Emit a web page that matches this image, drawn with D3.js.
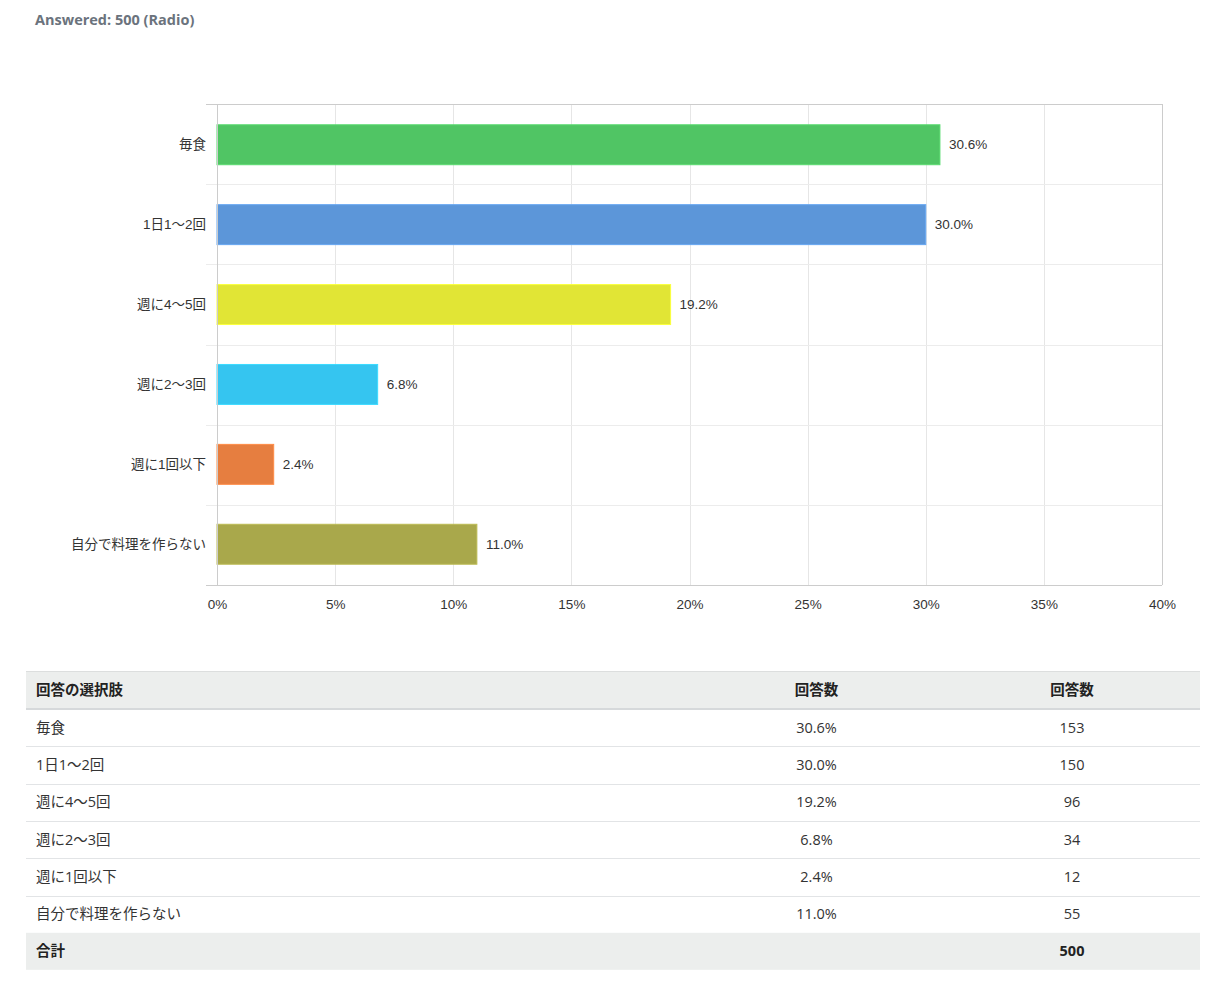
<!DOCTYPE html>
<html>
<head>
<meta charset="utf-8">
<script src="https://cdn.jsdelivr.net/npm/d3@7"></script>
<style>
  html, body { margin: 0; padding: 0; background: #fff; }
  svg { display: block; }
</style>
</head>
<body>
<svg id="chart" width="1225" height="982"></svg>
<script>
const categories = ["毎食", "1日1〜2回", "週に4〜5回", "週に2〜3回", "週に1回以下", "自分で料理を作らない"];
const percents = [30.6, 30.0, 19.2, 6.8, 2.4, 11.0];
const counts = [153, 150, 96, 34, 12, 55];
const colors = ["#50c564", "#5c96d9", "#e1e535", "#35c5f0", "#e67e40", "#a9a84b"];
const xTicks = [0, 5, 10, 15, 20, 25, 30, 35, 40];
const total = 500;
const titleText = "Answered: 500 (Radio)";
const tableHeaders = ["回答の選択肢", "回答数", "回答数"];
const totalLabel = "合計";

(function () {
const svg = d3.select("#chart");
const latin = "'Liberation Sans', Arial, 'Noto Sans CJK JP', sans-serif";
const tfont = "'Open Sans', 'Noto Sans CJK JP', sans-serif";
const cfs = 13.5;

svg.append("text").attr("x", 35).attr("y", 25)
  .attr("font-family", tfont).attr("font-size", 14.5).attr("font-weight", "bold")
  .attr("fill", "#6b737d").text(titleText);

const pLeft = 217, pRight = 1162, pTop = 104, pBottom = 585;
const x = d3.scaleLinear().domain([0, 40]).range([pLeft, pRight]);
const y = d3.scaleBand().domain(categories).range([pTop, pBottom]).paddingInner(0.5).paddingOuter(0.26);
const yb = d3.scaleBand().domain(categories).range([pTop, pBottom]);

const g = svg.append("g");

g.selectAll("line.vg").data(xTicks.slice(1, -1)).join("line")
  .attr("x1", d => Math.round(x(d)) + 0.5).attr("x2", d => Math.round(x(d)) + 0.5).attr("y1", pTop).attr("y2", pBottom)
  .attr("stroke", "#e6e6e6").attr("stroke-width", 1);

g.selectAll("line.hg").data(categories.slice(1)).join("line")
  .attr("x1", pLeft - 11).attr("x2", pRight).attr("y1", d => Math.round(yb(d)) + 0.5).attr("y2", d => Math.round(yb(d)) + 0.5)
  .attr("stroke", "#ececec").attr("stroke-width", 1);

g.selectAll("rect.bar").data(categories).join("rect")
  .attr("x", pLeft).attr("y", d => y(d))
  .attr("width", (d, i) => x(percents[i]) - pLeft).attr("height", y.bandwidth())
  .attr("fill", (d, i) => colors[i])
  .attr("stroke", (d, i) => d3.color(colors[i]).brighter(0.3))
  .attr("stroke-width", 1);

g.append("line").attr("x1", pLeft - 11).attr("x2", pRight).attr("y1", pTop + 0.5).attr("y2", pTop + 0.5)
  .attr("stroke", "#cccccc");
g.append("line").attr("x1", pRight + 0.5).attr("x2", pRight + 0.5).attr("y1", pTop).attr("y2", pBottom)
  .attr("stroke", "#cccccc");
g.append("line").attr("x1", pLeft - 11).attr("x2", pRight).attr("y1", pBottom + 0.5).attr("y2", pBottom + 0.5)
  .attr("stroke", "#cccccc");
g.append("line").attr("x1", pLeft + 0.5).attr("x2", pLeft + 0.5).attr("y1", pTop).attr("y2", pBottom)
  .attr("stroke", "#cccccc");

g.selectAll("text.val").data(categories).join("text")
  .attr("x", (d, i) => x(percents[i]) + 9).attr("y", d => y(d) + y.bandwidth() / 2)
  .attr("dy", "0.35em").attr("font-family", latin).attr("font-size", cfs).attr("fill", "#333")
  .text((d, i) => percents[i].toFixed(1) + "%");

const yAxis = d3.axisLeft(y).tickSize(0).tickPadding(11);
const ya = svg.append("g").attr("transform", `translate(${pLeft},0)`).call(yAxis);
ya.select(".domain").remove();
ya.selectAll("text").attr("font-family", latin).attr("font-size", cfs).attr("fill", "#333");

const xAxis = d3.axisBottom(x).tickValues(xTicks).tickSize(0).tickPadding(14).tickFormat(d => d + "%");
const xa = svg.append("g").attr("transform", `translate(0,${pBottom})`).call(xAxis);
xa.select(".domain").remove();
xa.selectAll("text").attr("font-family", latin).attr("font-size", cfs).attr("fill", "#333");

const tx = 26, tw = 1174;
const colEdges = [26, 689, 944, 1200];
const headerTop = 671, rowH = 37.3;
const tfs = 14.5;
const t = svg.append("g");
t.append("rect").attr("x", tx).attr("y", headerTop).attr("width", tw).attr("height", 38).attr("fill", "#eceeed");
t.append("line").attr("x1", tx).attr("x2", tx + tw).attr("y1", headerTop + 0.5).attr("y2", headerTop + 0.5).attr("stroke", "#dcdede");
t.append("line").attr("x1", tx).attr("x2", tx + tw).attr("y1", headerTop + 38).attr("y2", headerTop + 38).attr("stroke", "#d6d9db").attr("stroke-width", 2);
const hy = headerTop + 19;
t.append("text").attr("x", 36).attr("y", hy).attr("dy", "0.35em").attr("font-family", tfont)
  .attr("font-size", tfs).attr("font-weight", "bold").attr("fill", "#222").text(tableHeaders[0]);
[1, 2].forEach(c => {
  t.append("text").attr("x", (colEdges[c] + colEdges[c + 1]) / 2).attr("y", hy).attr("dy", "0.35em")
    .attr("text-anchor", "middle").attr("font-family", tfont).attr("font-size", tfs).attr("font-weight", "bold")
    .attr("fill", "#222").text(tableHeaders[c]);
});
const rowsTop = headerTop + 38;
categories.forEach((cat, i) => {
  const ry = rowsTop + i * rowH;
  const cy = ry + rowH / 2;
  t.append("line").attr("x1", tx).attr("x2", tx + tw).attr("y1", Math.round(ry + rowH) + 0.5).attr("y2", Math.round(ry + rowH) + 0.5)
    .attr("stroke", "#e2e4e6");
  t.append("text").attr("x", 36).attr("y", cy).attr("dy", "0.35em").attr("font-family", tfont)
    .attr("font-size", tfs).attr("fill", "#333").text(cat);
  t.append("text").attr("x", (colEdges[1] + colEdges[2]) / 2).attr("y", cy).attr("dy", "0.35em")
    .attr("text-anchor", "middle").attr("font-family", tfont).attr("font-size", tfs).attr("fill", "#333")
    .text(percents[i].toFixed(1) + "%");
  t.append("text").attr("x", (colEdges[2] + colEdges[3]) / 2).attr("y", cy).attr("dy", "0.35em")
    .attr("text-anchor", "middle").attr("font-family", tfont).attr("font-size", tfs).attr("fill", "#333")
    .text(counts[i]);
});
const fy = rowsTop + categories.length * rowH;
t.append("rect").attr("x", tx).attr("y", fy).attr("width", tw).attr("height", 37).attr("fill", "#eceeed");
t.append("text").attr("x", 36).attr("y", fy + 18.5).attr("dy", "0.35em").attr("font-family", tfont)
  .attr("font-size", tfs).attr("font-weight", "bold").attr("fill", "#222").text(totalLabel);
t.append("text").attr("x", (colEdges[2] + colEdges[3]) / 2).attr("y", fy + 18.5).attr("dy", "0.35em")
  .attr("text-anchor", "middle").attr("font-family", tfont).attr("font-size", tfs).attr("font-weight", "bold")
  .attr("fill", "#222").text(total);
})();
</script>
</body>
</html>
